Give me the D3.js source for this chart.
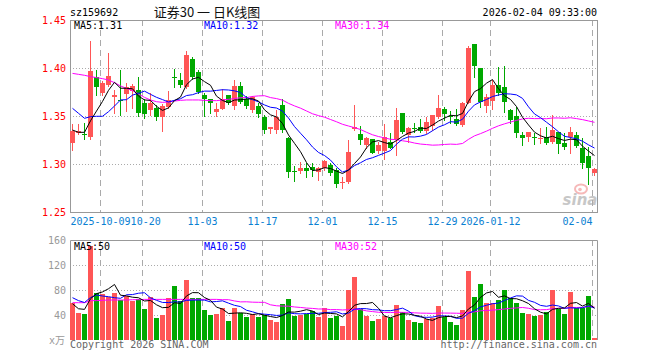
<!DOCTYPE html>
<html>
<head>
<meta charset="utf-8">
<script src="https://cdn.jsdelivr.net/npm/d3@7/dist/d3.min.js"></script>
<style>
body{margin:0;background:#fff}
text{font-family:"DejaVu Sans Mono",monospace;font-size:10px}
</style>
</head>
<body>
<svg id="chart" width="660" height="360"></svg>
<script>
// trading days shown (one candle per day)
var dates = [
  "2025-09-24","2025-09-25","2025-09-26","2025-09-29","2025-09-30",
  "2025-10-09","2025-10-10","2025-10-13","2025-10-14","2025-10-15","2025-10-16","2025-10-17",
  "2025-10-20","2025-10-21","2025-10-22","2025-10-23","2025-10-24",
  "2025-10-27","2025-10-28","2025-10-29","2025-10-30","2025-10-31",
  "2025-11-03","2025-11-04","2025-11-05","2025-11-06","2025-11-07",
  "2025-11-10","2025-11-11","2025-11-12","2025-11-13","2025-11-14",
  "2025-11-17","2025-11-18","2025-11-19","2025-11-20","2025-11-21",
  "2025-11-24","2025-11-25","2025-11-26","2025-11-27","2025-11-28",
  "2025-12-01","2025-12-02","2025-12-03","2025-12-04","2025-12-05",
  "2025-12-08","2025-12-09","2025-12-10","2025-12-11","2025-12-12",
  "2025-12-15","2025-12-16","2025-12-17","2025-12-18","2025-12-19",
  "2025-12-22","2025-12-23","2025-12-24","2025-12-25","2025-12-26",
  "2025-12-29","2025-12-30","2025-12-31",
  "2026-01-05","2026-01-06","2026-01-07","2026-01-08","2026-01-09",
  "2026-01-12","2026-01-13","2026-01-14","2026-01-15","2026-01-16",
  "2026-01-19","2026-01-20","2026-01-21","2026-01-22","2026-01-23",
  "2026-01-26","2026-01-27","2026-01-28","2026-01-29","2026-01-30",
  "2026-02-02","2026-02-03","2026-02-04"]

var opens = [1.322,1.332,1.331,1.3285,1.391,1.3736,1.3823,1.370,1.367,1.373,
  1.3765,1.377,1.3639,1.3563,1.358,1.3493,1.359,1.3905,1.3875,1.3806,
  1.409,1.3962,1.3719,1.3677,1.3545,1.357,1.3719,1.3604,1.3813,1.368,
  1.3563,1.3604,1.3493,1.336,1.3354,1.3611,1.3267,1.2925,1.293,1.2962,
  1.2972,1.2913,1.2955,1.299,1.2938,1.2805,1.2809,1.3361,1.3313,1.3194,
  1.3264,1.3135,1.3135,1.3233,1.325,1.3528,1.3302,1.3375,1.3382,1.3344,
  1.3396,1.3486,1.357,1.3497,1.3465,1.3406,1.3632,1.425,1.3997,1.3604,
  1.366,1.3823,1.3806,1.3563,1.35,1.3302,1.3285,1.3278,1.3265,1.3285,
  1.3233,1.3337,1.3222,1.3285,1.3302,1.3163,1.3087,1.291]
var highs = [1.342,1.342,1.343,1.4285,1.398,1.386,1.4153,1.377,1.398,1.384,
  1.3835,1.391,1.368,1.3736,1.3615,1.363,1.376,1.3986,1.3944,1.4177,
  1.4111,1.398,1.3736,1.3677,1.3632,1.378,1.3719,1.3875,1.385,1.3708,
  1.3708,1.3632,1.351,1.339,1.3563,1.3674,1.3285,1.298,1.3024,1.3007,
  1.3014,1.2972,1.3042,1.3007,1.2955,1.2868,1.325,1.3615,1.3396,1.3285,
  1.3264,1.3233,1.3417,1.3319,1.358,1.3528,1.3382,1.3424,1.3465,1.3486,
  1.351,1.3719,1.359,1.3556,1.357,1.365,1.4233,1.425,1.3997,1.3729,
  1.3875,1.4014,1.4024,1.357,1.3597,1.3337,1.3333,1.3326,1.3372,1.3389,
  1.351,1.3337,1.3319,1.3389,1.3337,1.3267,1.318,1.2955]
var lows = [1.315,1.331,1.326,1.3257,1.372,1.372,1.381,1.353,1.351,1.355,
  1.358,1.350,1.3476,1.351,1.346,1.3347,1.358,1.3806,1.3806,1.3788,
  1.3882,1.3736,1.350,1.3535,1.350,1.357,1.363,1.357,1.3632,1.358,
  1.3545,1.3493,1.332,1.332,1.332,1.3337,1.2868,1.2826,1.2903,1.2868,
  1.2875,1.2833,1.2938,1.2885,1.2764,1.2747,1.2798,1.3354,1.3208,1.3163,
  1.3111,1.3118,1.3049,1.3163,1.3094,1.332,1.3233,1.3337,1.3337,1.332,
  1.3354,1.3476,1.3458,1.343,1.3406,1.3396,1.3632,1.391,1.359,1.3545,
  1.357,1.3719,1.3545,1.3424,1.3285,1.3198,1.3243,1.3208,1.3222,1.3208,
  1.3215,1.3111,1.3153,1.3118,1.3174,1.2962,1.2792,1.2885]
var closes = [1.334,1.334,1.330,1.3972,1.3806,1.384,1.3917,1.372,1.3665,1.380,
  1.3816,1.3535,1.352,1.3639,1.3493,1.3604,1.3667,1.390,1.3823,1.4135,
  1.3903,1.3753,1.3677,1.3632,1.357,1.3677,1.3639,1.3813,1.365,1.3604,
  1.3694,1.352,1.3354,1.3389,1.3493,1.3354,1.292,1.292,1.2955,1.2927,
  1.2937,1.2955,1.3035,1.291,1.2792,1.2813,1.3128,1.3382,1.325,1.3271,
  1.3118,1.3198,1.3278,1.317,1.3458,1.3333,1.3372,1.3365,1.334,1.3441,
  1.351,1.358,1.3517,1.349,1.3413,1.3632,1.4212,1.4021,1.3649,1.3694,
  1.3823,1.3736,1.365,1.3458,1.3326,1.3267,1.3333,1.3275,1.3268,1.3215,
  1.3354,1.3208,1.318,1.3337,1.3188,1.3014,1.2955,1.2944]
// volume, 万
var volumes = [59.7,43.7,41.6,150,75.7,73.6,69.3,75.7,64,70.4,
  62.9,65.1,49.6,68.3,35.7,40,67.7,86.4,62.4,96,
  66.7,66.7,48,40,41.6,51.2,30.9,51.2,42.7,37.3,
  41.6,37.3,39.5,32,29.3,57.6,65.6,38.4,39.5,41.6,
  46.4,37.3,51.2,35.7,38.4,22.4,80,101.3,49.1,38.9,
  30.9,33.6,38.9,35.7,56,45.3,32,28.8,27.7,33.6,
  34.7,54.4,37.3,28.8,24,48,110.4,68.8,89.6,59.7,
  59.7,64,80,67.7,58.7,43.7,41.6,38.4,40,45.3,
  80,49.6,41.6,76.8,51.7,51.7,70.9,3.7]

// MA values at the left edge (earlier days are not shown)
var ma5Head = [1.3354,1.333,1.333,1.345]
var ma10Head = [1.358,1.3528,1.3476,1.3493,1.3497,1.3497,1.3545,1.3604,1.3667]
var ma30Head = [1.3944,1.3934,1.3924,1.391,1.390,1.3889,1.3875,1.3847,1.3813,1.3788,
  1.3764,1.3729,1.3694,1.3667,1.3649,1.3642,1.3646,1.3656,1.3663,1.3667,
  1.3667,1.3667,1.3663,1.366,1.366,1.3667,1.3674,1.3681,1.3691]
var volMa5Head = [58,50,49,66]
var volMa10Head = [67.7,63,60,68,72,70.4,69.3,67.7,66.7]
var volMa30Head = [59.7,59.7,59.7,63,63,63.5,64,64,64,64,64.5,64.5,65,65,65,
  65,65,65,65,65,65,65,65,65,65,64.5,64.5,62.5,61]

var tickDates = ["2025-10-09","2025-10-20","2025-11-03","2025-11-17","2025-12-01",
  "2025-12-15","2025-12-29","2026-01-12","2026-02-04"]
var tickLabels = ["2025-10-09","10-20","11-03","11-17","12-01","12-15","12-29","2026-01-12","02-04"]
var priceTicks = [1.45,1.40,1.35,1.30,1.25]
var volTicks = [160,120,80,40]
var priceLegend = ["MA5:1.31","MA10:1.32","MA30:1.34"]
var volLegend = ["MA5:50","MA10:50","MA30:52"]

var RED = "#ff5656", GREEN = "#00a800", GRID = "#aaaaaa", FRAME = "#999999"
var maColors = ["#000000","#0000ff","#ff00ff"]
var L = 70, R = 597, T = 20, B = 212, VT = 240, VB = 340

var svg = d3.select("#chart")
svg.append("rect").attr("width", 660).attr("height", 360).attr("fill", "#fff")

var x = d3.scaleBand().domain(dates).range([69.5, 597.5]).paddingInner(1/6).paddingOuter(1/12)
var y = d3.scaleLinear().domain([1.25, 1.45]).range([B, T])
var yv = d3.scaleLinear().domain([0, 160]).range([VB, VT])

function movingAvg(vals, n, head) {
  return vals.map(function(v, i) {
    if (i < n - 1) return head[i]
    return d3.mean(vals.slice(i - n + 1, i + 1))
  })
}

// watermark
var wm = svg.append("g").attr("opacity", 0.55)
wm.append("ellipse").attr("cx", 581).attr("cy", 189).attr("rx", 6).attr("ry", 4.5)
  .attr("fill", "none").attr("stroke", "#f08080").attr("stroke-width", 2)
wm.append("circle").attr("cx", 580).attr("cy", 189.5).attr("r", 1.8).attr("fill", "#f08080")
wm.append("text").attr("x", 580).attr("y", 205).attr("text-anchor", "middle")
  .style("font-family", "DejaVu Sans").style("font-size", "15px").style("font-weight", "bold")
  .style("font-style", "italic").attr("fill", "#9a9a9a").text("sina")

// grid
function drawGrid(top, bottom, hVals, ys) {
  var g = svg.append("g")
  g.selectAll(".h").data(hVals).enter().append("line")
    .attr("x1", L).attr("x2", R)
    .attr("y1", function(d) { return Math.round(ys(d)) + 0.5 })
    .attr("y2", function(d) { return Math.round(ys(d)) + 0.5 })
    .attr("stroke", GRID).attr("stroke-dasharray", "1,2")
  g.selectAll(".v").data(tickDates).enter().append("line")
    .attr("x1", function(d) { return x(d) + 0.5 }).attr("x2", function(d) { return x(d) + 0.5 })
    .attr("y1", top).attr("y2", bottom)
    .attr("stroke", GRID).attr("stroke-dasharray", "6,4")
}
drawGrid(T, B, [1.40, 1.35, 1.30], y)
drawGrid(VT, VB, [120, 80, 40], yv)

// frames
svg.append("rect").attr("x", L + 0.5).attr("y", T + 0.5).attr("width", R - L).attr("height", B - T)
  .attr("fill", "none").attr("stroke", FRAME)
svg.append("path").attr("d", "M" + (L + 0.5) + "," + VB + "V" + (VT + 0.5) + "H" + (R + 0.5) + "V" + VB)
  .attr("fill", "none").attr("stroke", FRAME)

// candles
var idx = d3.range(dates.length)
function col(i) { return closes[i] >= opens[i] ? RED : GREEN }
var candles = svg.append("g")
candles.selectAll("line").data(idx).enter().append("line")
  .attr("x1", function(i) { return x(dates[i]) + 2.5 }).attr("x2", function(i) { return x(dates[i]) + 2.5 })
  .attr("y1", function(i) { return Math.round(y(highs[i])) }).attr("y2", function(i) { return Math.round(y(lows[i])) + 1 })
  .attr("stroke", col)
candles.selectAll("rect").data(idx).enter().append("rect")
  .attr("x", function(i) { return x(dates[i]) }).attr("width", x.bandwidth())
  .attr("y", function(i) { return Math.round(y(Math.max(opens[i], closes[i]))) })
  .attr("height", function(i) { return Math.max(1, Math.round(y(Math.min(opens[i], closes[i]))) - Math.round(y(Math.max(opens[i], closes[i])))) })
  .attr("fill", col)

// volume bars
svg.append("g").selectAll("rect").data(idx).enter().append("rect")
  .attr("x", function(i) { return x(dates[i]) }).attr("width", x.bandwidth())
  .attr("y", function(i) { return Math.round(yv(volumes[i])) })
  .attr("height", function(i) { return VB - Math.round(yv(volumes[i])) })
  .attr("fill", col)

// moving averages
function drawLine(vals, ys, color) {
  var line = d3.line().x(function(d, i) { return x(dates[i]) + 2.5 }).y(function(d) { return ys(d) })
  svg.append("path").datum(vals).attr("d", line).attr("fill", "none").attr("stroke", color).attr("stroke-width", 1)
}
drawLine(movingAvg(closes, 30, ma30Head), y, maColors[2])
drawLine(movingAvg(closes, 10, ma10Head), y, maColors[1])
drawLine(movingAvg(closes, 5, ma5Head), y, maColors[0])
drawLine(movingAvg(volumes, 30, volMa30Head), yv, maColors[2])
drawLine(movingAvg(volumes, 10, volMa10Head), yv, maColors[1])
drawLine(movingAvg(volumes, 5, volMa5Head), yv, maColors[0])

// axes labels
var pa = svg.append("g").attr("transform", "translate(" + L + ",0)")
  .call(d3.axisLeft(y).tickValues(priceTicks).tickSize(0).tickPadding(4).tickFormat(d3.format(".2f")))
pa.select(".domain").remove()
pa.attr("font-family", null).attr("font-size", null)
pa.selectAll("text").attr("fill", "#ff0000")

var va = svg.append("g").attr("transform", "translate(" + L + ",0)")
  .call(d3.axisLeft(yv).tickValues(volTicks).tickSize(0).tickPadding(4))
va.select(".domain").remove()
va.attr("font-family", null).attr("font-size", null)
va.selectAll("text").attr("fill", "#999999")
svg.append("text").attr("x", 65).attr("y", 344).attr("text-anchor", "end").attr("fill", "#999999")
  .style("font-family", "'DejaVu Sans Mono','Noto Sans CJK SC'").text("x万")

// date labels: centred on the day line, pushed right when they would run into the previous one
var dateText = svg.append("g").selectAll("text").data(tickDates).enter().append("text")
  .attr("x", function(d) { return x(d) + 0.5 }).attr("y", 225)
  .attr("text-anchor", function(d, i) { return i === tickDates.length - 1 ? "end" : "middle" })
  .attr("fill", "#0a80d2")
  .text(function(d, i) { return tickLabels[i] })
var prevEnd = -Infinity
dateText.each(function(d, i) {
  var b = this.getBBox()
  if (b.x < prevEnd) {
    d3.select(this).attr("x", +d3.select(this).attr("x") + (prevEnd - b.x))
    b = this.getBBox()
  }
  prevEnd = b.x + b.width
})

// legends
var legX = [74, 204, 335]
svg.append("g").selectAll("text").data(priceLegend).enter().append("text")
  .attr("x", function(d, i) { return legX[i] }).attr("y", 29)
  .attr("fill", function(d, i) { return maColors[i] }).text(function(d) { return d })
svg.append("g").selectAll("text").data(volLegend).enter().append("text")
  .attr("x", function(d, i) { return legX[i] }).attr("y", 250)
  .attr("fill", function(d, i) { return maColors[i] }).text(function(d) { return d })

// header and footer
svg.append("text").attr("x", 70).attr("y", 16).attr("fill", "#000").text("sz159692")
svg.append("text").attr("x", 207).attr("y", 17).attr("text-anchor", "middle").attr("fill", "#111")
  .style("font-family", "'Noto Sans CJK SC'").style("font-size", "13px").text("证券30 一 日K线图")
svg.append("text").attr("x", 597).attr("y", 16).attr("text-anchor", "end").attr("fill", "#000")
  .text("2026-02-04 09:33:00")
svg.append("text").attr("x", 70).attr("y", 348).attr("fill", "#666").text("Copyright 2026 SINA.COM")
svg.append("text").attr("x", 597).attr("y", 348).attr("text-anchor", "end").attr("fill", "#666")
  .text("http://finance.sina.com.cn")
</script>
</body>
</html>
